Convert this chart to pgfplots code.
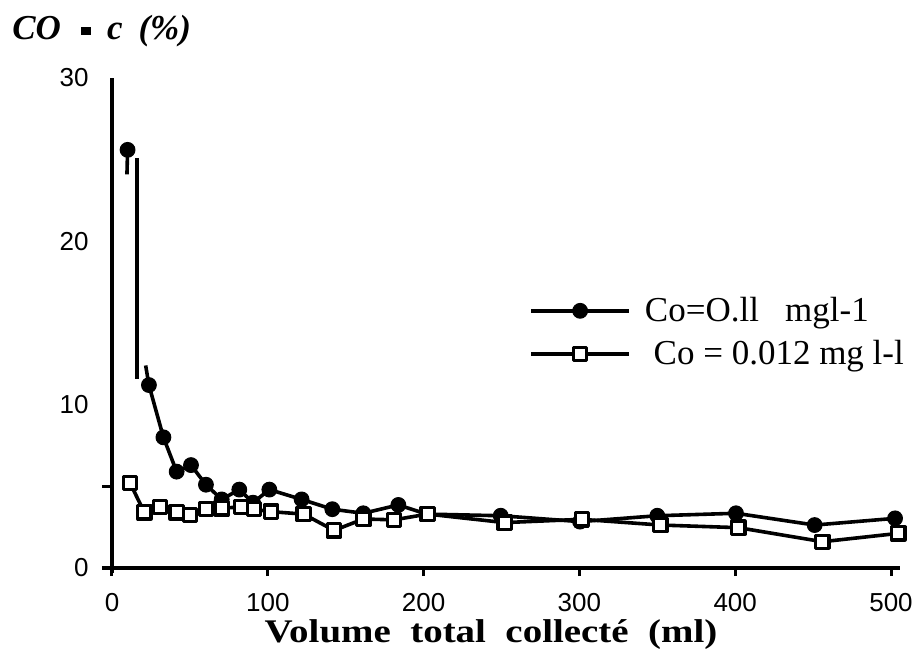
\documentclass[border=0pt]{standalone}
\usepackage{pgfplots}
\pgfplotsset{compat=1.18}
\usepackage{graphicx}
\usepackage{fontspec}
\setmainfont{Liberation Serif}
\newfontfamily\arial{Liberation Sans}

\tikzset{
  dataline/.style={black, line width=1.8pt, line join=round},
  dotmark/.style={mark=*, mark size=3.7pt, mark options={solid, fill=black, line width=0.5pt}},
  boxmark/.style={mark=square*, mark size=3.3pt, mark options={solid, fill=white, draw=black, line width=1.6pt}},
}

\begin{document}
\begin{tikzpicture}
\useasboundingbox (-56pt,-40.5pt) rectangle (402pt,284pt);
\begin{axis}[
  anchor=origin, at={(0pt,0pt)},
  x=0.779pt, y=8.1667pt,
  xmin=-6.5, xmax=506, ymin=-0.3, ymax=30,
  axis lines=middle,
  axis line style={-, line width=2.2pt},
  hide obscured x ticks=false, hide obscured y ticks=false,
  clip=false,
  xtick={0,100,...,500}, ytick={0,10,20,30},
  x tick style={line width=1.5pt, black},
  y tick style={draw=none},
  tick align=outside,
  major tick length=4pt,
  /pgf/number format/assume math mode=true,
  ticklabel style={font=\arial\fontsize{13}{15}\selectfont},
  xticklabel style={anchor=north, inner sep=0pt, yshift=-8.5pt},
  yticklabel style={anchor=east, inner sep=0pt, xshift=-7.5pt},
  legend style={at={(axis cs:267.6,14.42)}, anchor=west, draw=none, fill=none,
    inner sep=0pt, font=\fontsize{17.5}{20}\selectfont, row sep=4pt,
    column sep=5pt, cells={anchor=west}},
  legend image code/.code={\draw[mark repeat=2, mark phase=2]
    plot coordinates {(0pt,0pt) (24.5pt,0pt) (49pt,0pt)};},
]
% broken strokes from the first reading (as in the scan)
\addplot[dataline, no markers, forget plot] coordinates {(10,25.6) (9.6,24.1)};
\addplot[dataline, no markers, forget plot] coordinates {(16.2,25.1) (16.2,11.6)};
\addplot[dataline, no markers, forget plot] coordinates {(21.6,12.4) (23.7,11.2)};
\addplot[dataline, dotmark, only marks, forget plot] coordinates {(10,25.6)};

\addplot[dataline, dotmark] coordinates {
  (23.7,11.2) (33,8.0) (41.5,5.9) (50.7,6.3) (60.3,5.1) (70.4,4.2)
  (81.7,4.8) (90.5,4.0) (101,4.8) (121.7,4.2) (141.4,3.6) (161.3,3.35)
  (183.8,3.86) (202,3.3) (249.5,3.2) (300.4,2.84) (350,3.2) (400.5,3.35)
  (451,2.63) (502.6,3.04)
};
\addlegendentry{Co=O.ll\ \ \ mgl-1}

\addplot[dataline, boxmark] coordinates {
  (11.6,5.2) (20.8,3.4) (30.8,3.75) (41.5,3.4) (50,3.25) (60.3,3.6)
  (70.4,3.65) (82.8,3.75) (91,3.6) (102,3.45) (123,3.3) (142.5,2.3)
  (161.3,3.0) (181,2.95) (202.6,3.3) (252,2.78) (301.5,2.98) (352,2.63)
  (402,2.47) (456,1.61) (504.7,2.12)
};
\addlegendentry{\ Co = 0.012 mg l-l}

\draw[line width=1.5pt] (axis cs:0,5) -- ++(-5pt,0pt);
\end{axis}
\node[anchor=base west, font=\bfseries\itshape\fontsize{17.5}{20}\selectfont, inner sep=0pt]
  at (-50pt,264pt) {CO\hspace{10pt}\rule[2.5pt]{5pt}{4pt}\hspace{8pt}c\hspace{8pt}(\%)};
\node[anchor=base, font=\bfseries\fontsize{16.5}{18}\selectfont, inner sep=0pt]
  at (189.5pt,-37pt) {\scalebox{1.18}[1]{Volume\ \ total\ \ collecté\ \ (ml)}};
\end{tikzpicture}
\end{document}
